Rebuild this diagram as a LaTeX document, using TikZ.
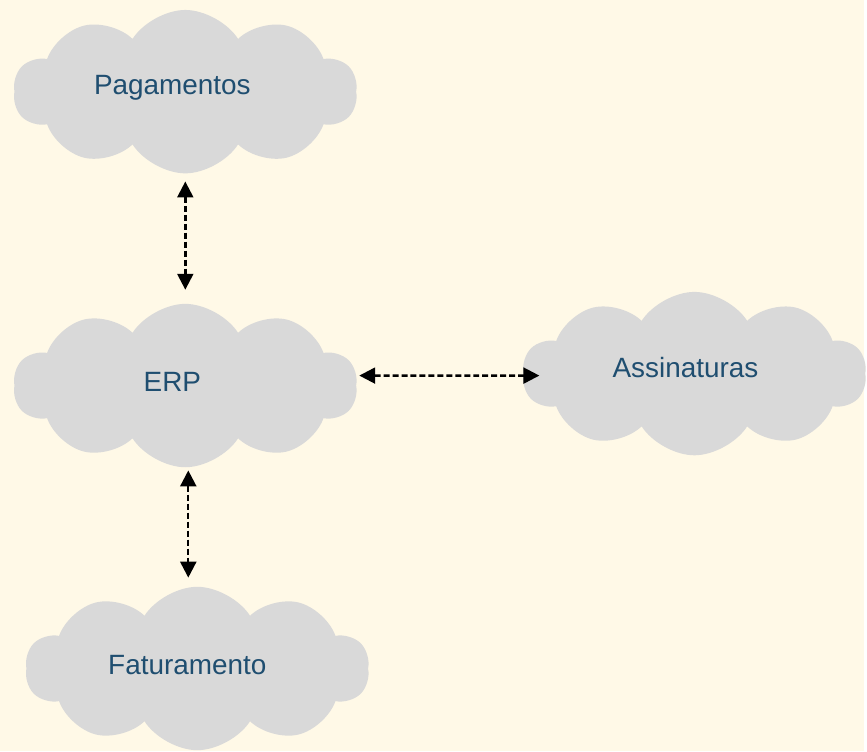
\documentclass[tikz,border=0pt]{standalone}
\usepackage{fontspec}
\setmainfont{Liberation Sans}
\usetikzlibrary{shapes.symbols,arrows.meta}
\definecolor{fundo}{RGB}{255,249,231}
\definecolor{cinzanuvem}{RGB}{217,217,217}
\definecolor{azultexto}{RGB}{31,78,112}

\begin{document}
\begin{tikzpicture}[x=1pt,y=-1pt,
nuvem/.style={cloud, cloud puffs=10, cloud puff arc=115, aspect=2, fill=cinzanuvem, draw=none, inner sep=0pt, minimum width=345pt, minimum height=164pt},
rotulo/.style={text=azultexto, font=\fontsize{28}{32}\selectfont},
seta/.style={dash pattern=on 6pt off 3pt, line width=2.4pt, {Triangle[length=16pt,width=16pt]}-{Triangle[length=16pt,width=16pt]}}
]
\fill[fundo] (0,0) rectangle (867,754);

% nuvens
\node[nuvem, label={[rotulo,xshift=-13pt,yshift=4pt]center:Pagamentos}] (pag) at (186,92) {};
\node[nuvem, label={[rotulo,xshift=-13pt,yshift=4pt]center:ERP}] (erp) at (186,387) {};
\node[nuvem, label={[rotulo,xshift=-9pt,yshift=6pt]center:Assinaturas}] (asn) at (697,375) {};
\node[nuvem, label={[rotulo,xshift=-10pt,yshift=3pt]center:Faturamento}] (fat) at (198,671) {};

% ligacoes
\draw[seta, shorten <=8pt, shorten >=14pt] (pag.south) -- (erp.north);
\draw[seta] ([xshift=3pt,yshift=10pt]erp.east) -- ([xshift=16pt,yshift=-2pt]asn.west);
\draw[seta, shorten <=3pt, shorten >=9pt] ([xshift=3pt]erp.south) -- ([xshift=-9pt]fat.north);
\end{tikzpicture}
\end{document}
